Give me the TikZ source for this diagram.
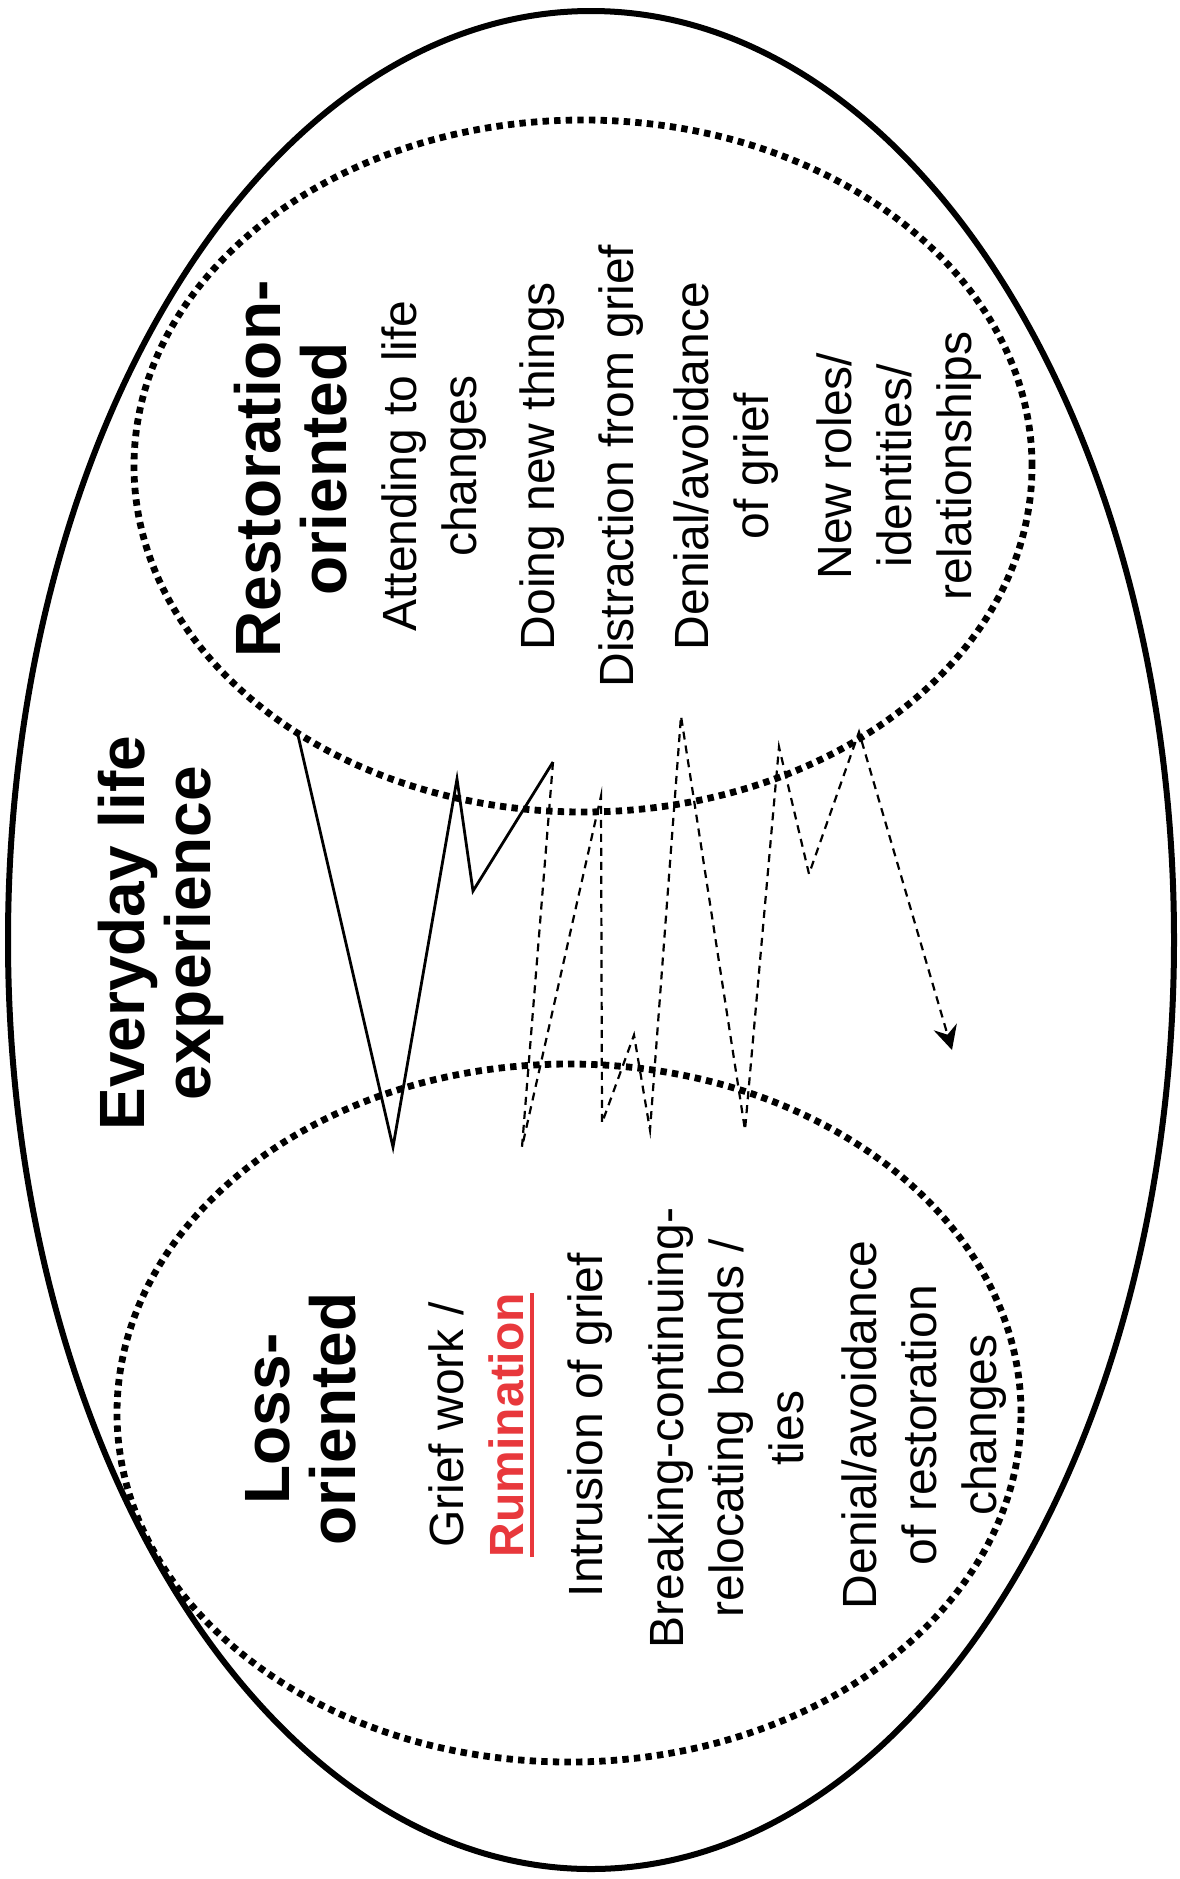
\documentclass[tikz,border=0pt]{standalone}
\usepackage{fontspec}
\setmainfont{Liberation Sans}
\usetikzlibrary{arrows.meta, positioning}
\definecolor{rumred}{RGB}{232,56,60}
\newcommand{\ulred}[1]{\leavevmode\vtop{\hbox{#1}\kern3pt\hrule height 2pt}}

\begin{document}
\begin{tikzpicture}[
    x=0.5pt, y=-0.5pt,
    heading/.style={rotate=90, align=center, inner sep=0pt, font=\fontsize{32}{33}\selectfont\bfseries},
    entry/.style={rotate=90, align=center, inner sep=0pt, font=\fontsize{24}{30}\selectfont},
    region/.style={line width=3.4pt, dash pattern=on 3.2pt off 2.6pt},
    swing/.style={line width=1.4pt},
    swingdash/.style={line width=1.1pt, dash pattern=on 4pt off 3pt}
]

\useasboundingbox (0,0) rectangle (1179,1879);

% Outer ellipse
\draw[line width=3pt] (591,940) ellipse [x radius=291.5pt, y radius=464.5pt];

% Restoration and loss regions
\draw[region] (583,466) ellipse [x radius=224.5pt, y radius=173pt];
\draw[region] (569,1413) ellipse [x radius=226pt, y radius=174.5pt];

% Headings
\node[heading] (everyday) at (161,933) {Everyday life\\experience};
\node[heading] (restitle) at (291,469) {Restoration-\\oriented};
\node[heading] (losstitle) at (301,1419) {Loss-\\oriented};

% Restoration-oriented items
\node[entry] (res1) at (434,466) {Attending to life\\changes};
\node[entry] (res2) at (542,466) {Doing new things};
\node[entry] (res3) at (621,466) {Distraction from grief};
\node[entry] (res4) at (726,466) {Denial/avoidance\\of grief};
\node[entry] (res5) at (899,466) {New roles/\\identities/\\relationships};

% Loss-oriented items
\node[entry] (loss1) at (481,1425) {Grief work /\\\textcolor{rumred}{\ulred{\bfseries Rumination}}};
\node[entry] (loss2) at (590,1425) {Intrusion of grief};
\node[entry] (loss3) at (726,1428) {Breaking-continuing-\\relocating bonds /\\ties};
\node[entry] (loss4) at (924,1425) {Denial/avoidance\\of restoration\\changes};

% Oscillation path
\coordinate (z1) at (297,731);
\coordinate (z2) at (393,1147);
\coordinate (z3) at (457,779);
\coordinate (z4) at (473,891);
\coordinate (z5) at (553,762);
\coordinate (z6) at (522,1147);
\coordinate (z7) at (601,796);
\coordinate (z8) at (602,1123);
\coordinate (z9) at (634,1035);
\coordinate (z10) at (650,1130);
\coordinate (z11) at (681,716);
\coordinate (z12) at (745,1130);
\coordinate (z13) at (779,747);
\coordinate (z14) at (809,874);
\coordinate (z15) at (859,732);
\coordinate (z16) at (952,1050);

\draw[swing] (z1) -- (z2) -- (z3) -- (z4) -- (z5);
\draw[swingdash, -{Stealth[length=12pt, width=12pt, inset=4pt]}] (z5) -- (z6) -- (z7) -- (z8) -- (z9) -- (z10) -- (z11) -- (z12) -- (z13) -- (z14) -- (z15) -- (z16);

\end{tikzpicture}
\end{document}
